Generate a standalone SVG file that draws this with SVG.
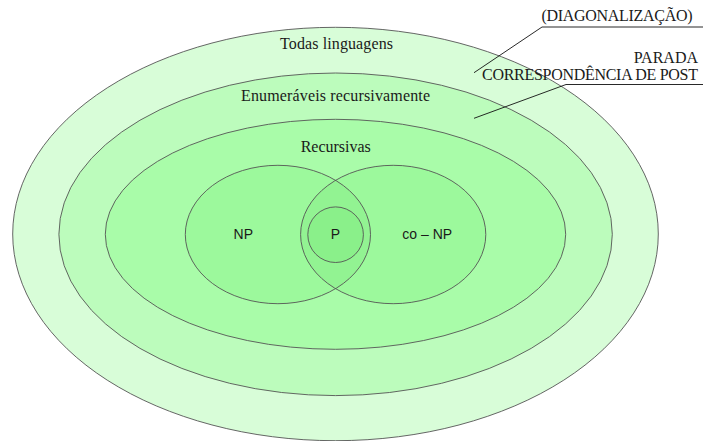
<svg xmlns="http://www.w3.org/2000/svg" width="703" height="441" viewBox="0 0 703 441">
  <style>
    .ring { stroke: #555; stroke-width: 0.9; }
    .serif { font-family: "Liberation Serif", "Times New Roman", serif; font-size: 16px; fill: #1a1a1a; }
    .sans { font-family: "Liberation Sans", Arial, sans-serif; font-size: 14px; fill: #1a1a1a; }
    .lead { stroke: #111; stroke-width: 0.9; fill: none; }
  </style>
  <defs>
    <clipPath id="npClip">
      <ellipse cx="277.9" cy="234.5" rx="92.6" ry="69.2"/>
    </clipPath>
  </defs>

  <rect width="703" height="441" fill="#ffffff"/>

  <!-- all languages -->
  <g id="todas">
    <ellipse class="ring" cx="335.5" cy="234" rx="322.8" ry="206.7" fill="#d8fdd8"/>
    <text class="serif" x="336.5" y="49" text-anchor="middle" textLength="113">Todas linguagens</text>
  </g>

  <!-- recursively enumerable -->
  <g id="enumeraveis">
    <ellipse class="ring" cx="335.6" cy="234.3" rx="276.7" ry="161.3" fill="#bcfcbc"/>
    <text class="serif" x="335.5" y="100.5" text-anchor="middle" textLength="189">Enumeráveis recursivamente</text>
  </g>

  <!-- recursive -->
  <g id="recursivas">
    <ellipse class="ring" cx="335.5" cy="234.3" rx="230.2" ry="115" fill="#a9fca9"/>
    <text class="serif" x="335.7" y="151.7" text-anchor="middle" textLength="70">Recursivas</text>
  </g>

  <!-- NP and co-NP -->
  <g id="np">
    <ellipse cx="277.9" cy="234.5" rx="92.6" ry="69.2" fill="#9cf99c"/>
  </g>
  <g id="conp">
    <ellipse cx="393.2" cy="234.5" rx="92.6" ry="69.2" fill="#9cf99c"/>
    <!-- overlap of NP and co-NP -->
    <ellipse cx="393.2" cy="234.5" rx="92.6" ry="69.2" fill="#92f392" clip-path="url(#npClip)"/>
    <ellipse class="ring" cx="393.2" cy="234.5" rx="92.6" ry="69.2" fill="none"/>
    <text class="sans" x="427.2" y="239.3" text-anchor="middle">co – NP</text>
  </g>
  <g id="np-outline">
    <ellipse class="ring" cx="277.9" cy="234.5" rx="92.6" ry="69.2" fill="none"/>
    <text class="sans" x="243.3" y="239.3" text-anchor="middle">NP</text>
  </g>

  <!-- P -->
  <g id="p">
    <circle class="ring" cx="335.6" cy="234.7" r="27.8" fill="#8af08a"/>
    <text class="sans" x="335.5" y="239.3" text-anchor="middle">P</text>
  </g>

  <!-- leader lines to the side notes -->
  <g id="connectors">
    <polyline class="lead" points="474,72.7 542,27 703,27"/>
    <polyline class="lead" points="474,118.3 566,84.5 703,84.5"/>
  </g>

  <g id="notes">
    <text class="serif" x="692.5" y="20.5" text-anchor="end" textLength="151">(DIAGONALIZAÇÃO)</text>
    <text class="serif" x="698" y="63" text-anchor="end">PARADA</text>
    <text class="serif" x="698" y="79.5" text-anchor="end" textLength="216">CORRESPONDÊNCIA DE POST</text>
  </g>
</svg>
